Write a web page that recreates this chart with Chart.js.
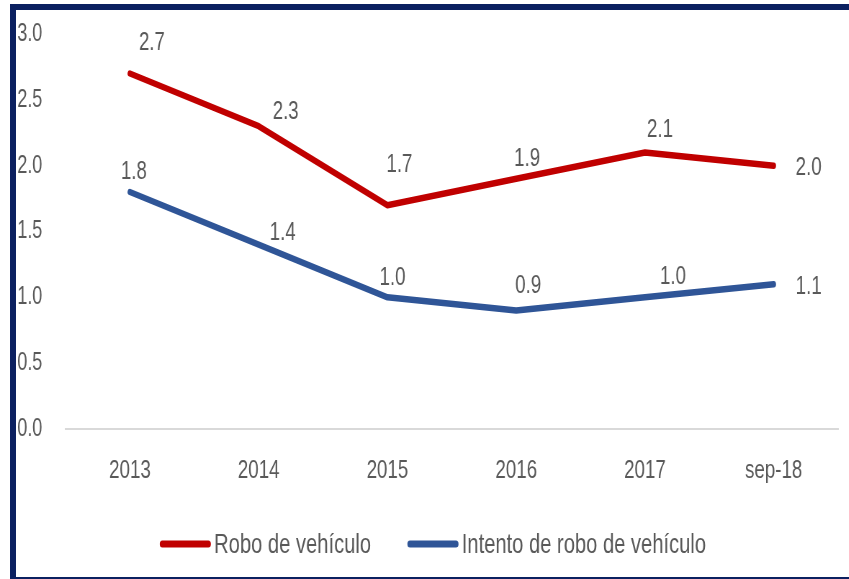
<!DOCTYPE html>
<html lang="es">
<head>
<meta charset="utf-8">
<title>Robo de vehículo</title>
<script src="https://cdn.jsdelivr.net/npm/chart.js@4/dist/chart.umd.min.js"></script>
<style>
  html, body { margin: 0; padding: 0; background: #fff; overflow: hidden; }
  body { width: 849px; height: 579px; position: relative; }
  /* the chart is laid out wide, then squeezed horizontally */
  #wrap { position: absolute; left: 0; top: 0; width: 1179px; height: 579px;
          transform: scaleX(0.72); transform-origin: 0 0; }
  #frame { position: absolute; left: 10px; top: 4px; width: 900px; height: 579px;
           box-sizing: border-box; border: 6px solid #0b2060; pointer-events: none; }
</style>
</head>
<body>
<div id="wrap"><canvas id="chart"></canvas></div>
<div id="frame"></div>
<script>
const categories = ["2013", "2014", "2015", "2016", "2017", "sep-18"];
const roboVehiculo = [2.7, 2.3, 1.7, 1.9, 2.1, 2.0];
const intentoRobo = [1.8, 1.4, 1.0, 0.9, 1.0, 1.1];

const SQUEEZE = 0.72;
const textColor = "#595959";
const fontFamily = "'Liberation Sans', Arial, sans-serif";

// where each value label sits relative to its point (screen px)
const roboLabelPos = [[22, -31], [27, -14], [12, -40], [11, -20], [15, -23], [35, 2]];
const intentoLabelPos = [[4, -20], [24, -12], [5, -20], [12, -25], [28, -21], [35, 3]];

const valueLabels = {
  id: "valueLabels",
  afterDatasetsDraw(chart) {
    const ctx = chart.ctx;
    ctx.save();
    ctx.font = "26px " + fontFamily;
    ctx.fillStyle = textColor;
    ctx.textAlign = "center";
    ctx.textBaseline = "middle";
    chart.data.datasets.forEach((ds, i) => {
      chart.getDatasetMeta(i).data.forEach((pt, j) => {
        const off = ds.labelPos[j];
        ctx.fillText(ds.data[j].toFixed(1), pt.x + off[0] / SQUEEZE, pt.y + off[1]);
      });
    });
    ctx.restore();
  }
};

const lineLegend = {
  id: "lineLegend",
  afterDraw(chart, args, opts) {
    const ctx = chart.ctx;
    ctx.save();
    ctx.font = "28px " + fontFamily;
    const sample = 72, gap = 4, itemGap = 50;
    const items = chart.data.datasets.map(ds => ({
      text: ds.label, color: ds.borderColor, w: ctx.measureText(ds.label).width
    }));
    let total = 0;
    items.forEach((it, i) => { total += sample + gap + it.w + (i ? itemGap : 0); });
    let x = opts.center - total / 2;
    const y = chart.height - opts.bottom;
    items.forEach((it, i) => {
      if (i) x += itemGap;
      ctx.strokeStyle = it.color;
      ctx.lineWidth = 7;
      ctx.lineCap = "round";
      ctx.beginPath();
      ctx.moveTo(x + 4, y);
      ctx.lineTo(x + sample - 4, y);
      ctx.stroke();
      x += sample + gap;
      ctx.fillStyle = textColor;
      ctx.textBaseline = "middle";
      ctx.textAlign = "left";
      ctx.fillText(it.text, x, y + 1);
      x += it.w;
    });
    ctx.restore();
  }
};

new Chart(document.getElementById("chart"), {
  type: "line",
  data: {
    labels: categories,
    datasets: [
      {
        label: "Robo de vehículo",
        data: roboVehiculo,
        borderColor: "#c00000",
        labelPos: roboLabelPos
      },
      {
        label: "Intento de robo de vehículo",
        data: intentoRobo,
        borderColor: "#2f5597",
        labelPos: intentoLabelPos
      }
    ]
  },
  options: {
    responsive: true,
    maintainAspectRatio: false,
    animation: false,
    devicePixelRatio: 1,
    layout: { padding: { top: 34, right: 15, bottom: 70, left: 24 } },
    elements: {
      line: { borderWidth: 6.5, tension: 0, borderCapStyle: "round", borderJoinStyle: "round", fill: false },
      point: { radius: 0, hoverRadius: 0 }
    },
    scales: {
      x: {
        offset: true,
        grid: { display: false, drawTicks: false },
        border: { display: true, color: "#d9d9d9", width: 2 },
        ticks: { color: textColor, font: { family: fontFamily, size: 26 }, padding: 26, maxRotation: 0 },
        afterFit(axis) { axis.height = 80; }
      },
      y: {
        min: 0,
        max: 3,
        grid: { display: false, drawTicks: false },
        border: { display: false },
        ticks: {
          stepSize: 0.5,
          color: textColor,
          font: { family: fontFamily, size: 25 },
          padding: 0,
          crossAlign: "far",
          callback: v => v.toFixed(1)
        },
        afterFit(axis) { axis.width = 67; }
      }
    },
    plugins: {
      legend: { display: false },
      tooltip: { enabled: false },
      lineLegend: { center: 601, bottom: 35 }
    }
  },
  plugins: [valueLabels, lineLegend]
});
</script>
</body>
</html>
